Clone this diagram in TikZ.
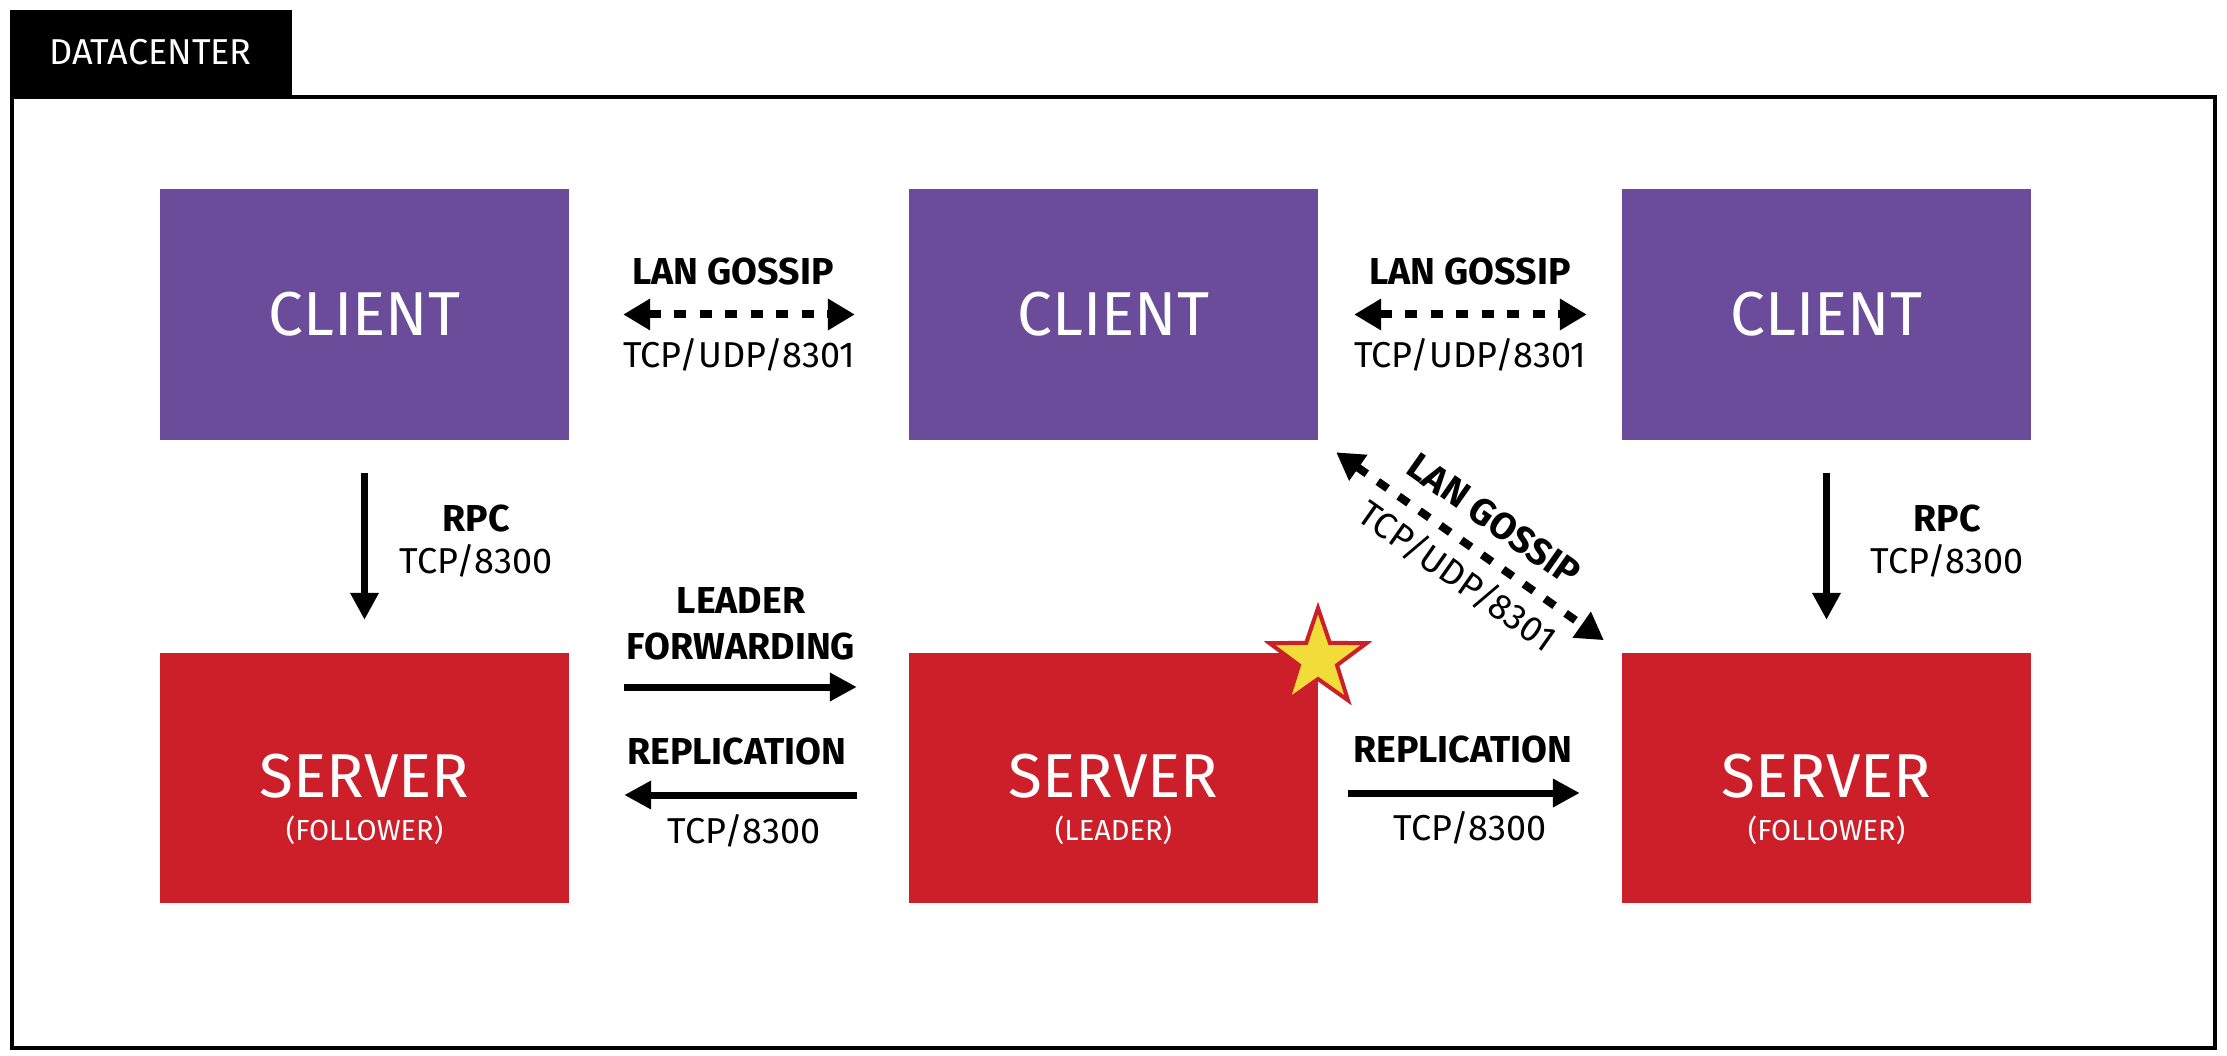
\documentclass[tikz,border=0pt]{standalone}
\usepackage{fontspec}
\setmainfont{Fira Sans}
\usetikzlibrary{arrows.meta,calc}
\definecolor{cpurple}{HTML}{6B4C9B}
\definecolor{sred}{HTML}{CC1F29}
\definecolor{syellow}{HTML}{F2DC3A}
\begin{document}
\begin{tikzpicture}[x=1pt,y=-1pt,
  box/.style={rectangle, minimum width=409pt, minimum height=250pt, inner sep=0pt, text=white, font=\fontsize{62}{70}\selectfont},
  clientbox/.style={box, fill=cpurple},
  serverbox/.style={box, fill=sred},
  lbl/.style={anchor=base, inner sep=0pt, font=\fontsize{36}{40}\selectfont},
  blbl/.style={anchor=base, inner sep=0pt, font=\fontsize{37.5}{42}\selectfont\bfseries},
  inlbl/.style={anchor=base, inner sep=0pt, text=white},
  solidarrow/.style={line width=7pt, -{Triangle[length=27pt,width=27pt]}},
  gossiparrow/.style={line width=8pt, dash pattern=on 12pt off 13.5pt, {Triangle[length=27pt,width=30pt]}-{Triangle[length=27pt,width=30pt]}}
]
\useasboundingbox (0,0) rectangle (2227,1056);
\fill[white] (0,0) rectangle (2227,1056);

% frame and tab
\draw[line width=4pt] (12,97) rectangle (2215,1048);
\fill[black] (10,10) rectangle (292,97);
\node[inlbl, font=\fontsize{36}{40}\selectfont] (dc) at (150.5,65) {DATACENTER};

% boxes
\node[clientbox] (c1) at (364.5,314.5) {CLIENT};
\node[clientbox] (c2) at (1113.5,314.5) {CLIENT};
\node[clientbox] (c3) at (1826.5,314.5) {CLIENT};
\node[serverbox] (s1) at (364.5,778) {};
\node[serverbox] (s2) at (1113.5,778) {};
\node[serverbox] (s3) at (1826.5,778) {};

\node[inlbl, font=\fontsize{62}{70}\selectfont] (s1t) at (364.5,797) {SERVER};
\node[inlbl, font=\fontsize{29}{32}\selectfont] (s1r) at (364.5,840) {(FOLLOWER)};
\node[inlbl, font=\fontsize{62}{70}\selectfont] (s2t) at (1113.5,797) {SERVER};
\node[inlbl, font=\fontsize{29}{32}\selectfont] (s2r) at (1113.5,840) {(LEADER)};
\node[inlbl, font=\fontsize{62}{70}\selectfont] (s3t) at (1826.5,797) {SERVER};
\node[inlbl, font=\fontsize{29}{32}\selectfont] (s3r) at (1826.5,840) {(FOLLOWER)};

% star on leader
\draw[sred, fill=syellow, line width=4pt, line join=miter]
  (1318,608) -- (1329.8,642.8) -- (1366.5,643.2) -- (1337.0,665.2) -- (1348.0,700.3)
  -- (1318,679) -- (1288.0,700.3) -- (1299.0,665.2) -- (1269.5,643.2) -- (1306.2,642.8) -- cycle;

% gossip between clients
\draw[gossiparrow, shorten <=54pt, shorten >=54pt] (c1) -- (c2);
\node[blbl] (g1a) at (733,285) {LAN GOSSIP};
\node[lbl] (g1b) at (739,367) {TCP/UDP/8301};
\draw[gossiparrow, shorten <=36pt, shorten >=35pt] (c2) -- (c3);
\node[blbl] (g2a) at (1470,285) {LAN GOSSIP};
\node[lbl] (g2b) at (1470,367) {TCP/UDP/8301};

% diagonal gossip
\draw[gossiparrow, shorten <=22pt, shorten >=22pt] (c2.south east) -- (s3.north west);
\node[blbl, rotate=-35.14] (g3a) at (1486.5,530) {LAN GOSSIP};
\node[lbl, rotate=-35.14] (g3b) at (1450.1,586.4) {TCP/UDP/8301};

% RPC
\draw[solidarrow, shorten <=33pt, shorten >=33pt] (c1) -- (s1);
\node[blbl] (r1a) at (476,531) {RPC};
\node[lbl] (r1b) at (476,573) {TCP/8300};
\draw[solidarrow, shorten <=33pt, shorten >=33pt] (c3) -- (s3);
\node[blbl] (r2a) at (1947,531) {RPC};
\node[lbl] (r2b) at (1947,573) {TCP/8300};

% leader forwarding / replication
\draw[solidarrow, shorten <=55pt, shorten >=52pt] ([yshift=91pt]s1.east) -- ([yshift=91pt]s2.west);
\node[blbl] (lf1) at (741,613) {LEADER};
\node[blbl] (lf2) at (741,659) {FORWARDING};
\draw[solidarrow, shorten <=52pt, shorten >=55pt] ([yshift=-17pt]s2.west) -- ([yshift=-17pt]s1.east);
\node[blbl] (rp1) at (737,764) {REPLICATION};
\node[lbl] (rp1b) at (744,843) {TCP/8300};
\draw[solidarrow, shorten <=30pt, shorten >=42pt] ([yshift=-15pt]s2.east) -- ([yshift=-15pt]s3.west);
\node[blbl] (rp2) at (1463,762) {REPLICATION};
\node[lbl] (rp2b) at (1470,840) {TCP/8300};
\end{tikzpicture}
\end{document}
